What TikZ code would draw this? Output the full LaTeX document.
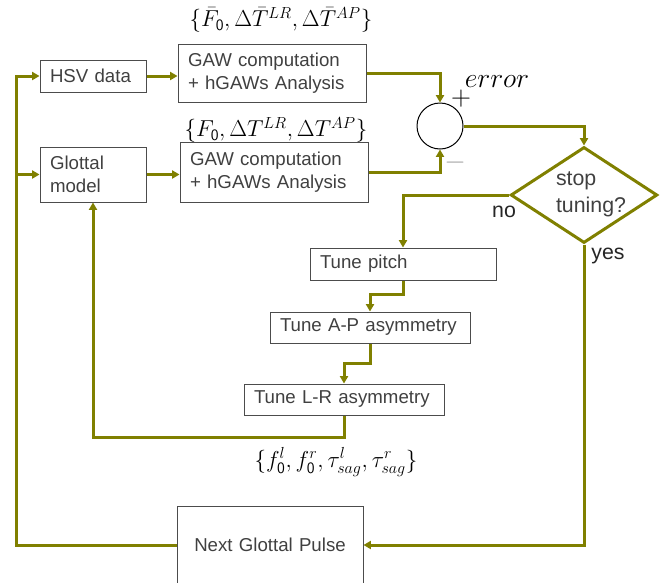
\documentclass[tikz,border=0pt]{standalone}
\usepackage{fontspec}
\setmainfont{Liberation Sans}
\usetikzlibrary{arrows.meta,shapes.geometric}
\definecolor{flow}{RGB}{128,128,0}
\definecolor{boxtext}{RGB}{64,64,64}

\begin{document}
\begin{tikzpicture}[x=0.75pt, y=-0.75pt, >={Triangle[width=6pt,length=5.5pt]}]
        % Styles
        \tikzset{block/.style={rectangle, draw=black!70, line width=0.75pt, text=boxtext, font=\fontsize{14}{17.25}\selectfont, inner ysep=0pt, inner xsep=7.5pt, align=left}}
        \tikzset{decision/.style={diamond, draw=flow, line width=2.25pt, inner sep=0pt, minimum width=110pt, minimum height=72pt}}
        \tikzset{link/.style={draw=flow, line width=2.25pt}}
        \tikzset{params/.style={font=\fontsize{17}{20}\selectfont}}
        \tikzset{answer/.style={font=\fontsize{16}{20}\selectfont, text=black!85}}
        \useasboundingbox (0,0) rectangle (670,582);

        % Inputs
        \node[block, text width=64.5pt, minimum height=24pt] (hsv) at (93,76) {HSV data};
        \node[block, text width=64.5pt, minimum height=41.25pt] (glottal) at (93,174.5) {Glottal\\model};

        % Analysis
        \node[block, text width=126pt, minimum height=43.5pt] (gawtop) at (272,73) {GAW computation\\+ hGAWs Analysis};
        \node[block, text width=126pt, minimum height=45pt] (gawbot) at (274,172) {GAW computation\\+ hGAWs Analysis};
        \node[params] (bartop) at (281,20) {$\{\bar{F}_{\mathsf{0}}, \Delta\bar{T}^{LR}, \Delta\bar{T}^{AP}\}$};
        \node[params] (parbot) at (276,130) {$\{F_{\mathsf{0}}, \Delta T^{LR}, \Delta T^{AP}\}$};

        % Comparison
        \node[circle, draw=black, line width=0.75pt, minimum size=34.5pt, inner sep=0pt] (sum) at (440,126) {};
        \node[font=\fontsize{20}{24}\selectfont] (err) at (497,82) {$error$};
        \node[font=\fontsize{20}{24}\selectfont] (plus) at (461,99) {$+$};
        \node[font=\fontsize{20}{24}\selectfont, text=black!35] (minus) at (455,163) {$-$};
        \node[decision] (stop) at (584,195) {};
        \node[align=left, text=boxtext, font=\fontsize{16}{20}\selectfont, inner sep=0pt] (stoptext) at (591,194) {stop\\tuning?};
        \node[answer] (no) at (504,212) {no};
        \node[answer] (yes) at (608,256) {yes};

        % Tuning
        \node[block, text width=124.5pt, minimum height=24pt] (pitch) at (403,264) {Tune pitch};
        \node[block, text width=135pt, minimum height=23.25pt] (ap) at (370,327.5) {Tune A-P asymmetry};
        \node[block, text width=135pt, minimum height=23.25pt] (lr) at (344,399.5) {Tune L-R asymmetry};
        \node[params] (tune) at (336,462) {$\{f_{\mathsf{0}}^l, f_{\mathsf{0}}^r, \tau_{sag}^l, \tau_{sag}^r\}$};

        % Next pulse
        \node[block, align=center, text width=124.5pt, minimum height=58.5pt] (next) at (270,545) {Next Glottal Pulse};
        \coordinate (rail) at (16,76);

        % Connections
        \draw[link, ->] (next.west) -| (rail) -- (hsv.west);
        \draw[link, ->] (rail |- glottal.west) -- (glottal.west);
        \draw[link, ->] (hsv.east) -- (hsv.east -| gawtop.west);
        \draw[link, ->] (glottal.east) -- (glottal.east -| gawbot.west);
        \draw[link, ->] (gawtop.east) -| (sum.north);
        \draw[link, ->] (gawbot.east) -| (sum.south);
        \draw[link, ->] (sum.east) -| (stop.north);
        \draw[link, ->] (stop.west) -| (pitch.north);
        \draw[link, ->] (pitch.south) -- ++(0,14) -| (ap.north);
        \draw[link, ->] (ap.south) -- ++(0,20) -| (lr.north);
        \draw[link, ->] (lr.south) -- ++(0,22) -| (glottal.south);
        \draw[link, ->] (stop.south) |- (next.east);
    \end{tikzpicture}
\end{document}
